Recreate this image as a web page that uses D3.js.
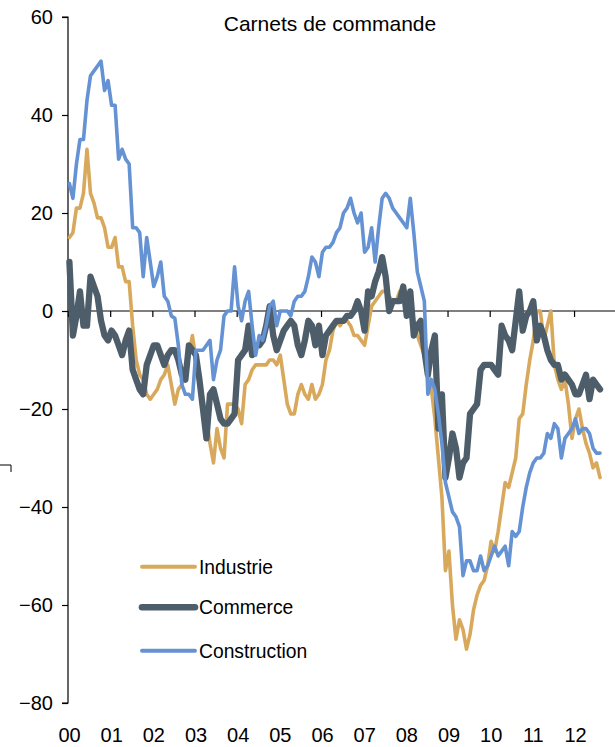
<!DOCTYPE html>
<html>
<head>
<meta charset="utf-8">
<script src="https://cdn.jsdelivr.net/npm/d3@7"></script>
<style>
  html, body { margin: 0; padding: 0; background: #fff; }
  svg { display: block; font-family: "Liberation Sans", Arial, sans-serif; }
</style>
</head>
<body>
<svg id="chart" width="615" height="747"></svg>
<script>
// ---- Data (monthly, Jan 2000 .. Aug 2012) ----
const startYear = 2000;
const yearLabels = ["00","01","02","03","04","05","06","07","08","09","10","11","12"];
const yTicks = [-80, -60, -40, -20, 0, 20, 40, 60];

const industrie = [
  15,16,21,21,24,33,24,22,19,19,17,13,
  13,15,9,9,6,6,-3,-10,-13,-14,-17,-18,
  -17,-16,-14,-13,-11,-15,-19,-16,-15,-13,-9,-5,
  -10,-14,-18,-22,-27,-31,-24,-28,-30,-19,-19,-19,
  -20,-23,-15,-14,-12,-11,-11,-11,-11,-10,-10,-11,
  -9,-14,-19,-21,-21,-17,-15,-17,-18,-15,-18,-17,
  -15,-10,-8,-4,-2,-3,-2,-2,-3,-5,-5,-6,
  -7,-3,1,2,3,4,4,3,2,2,4,2,
  2,1,-2,-5,-7,-9,-12,-16,-22,-30,-38,-53,
  -49,-60,-67,-63,-65,-69,-66,-61,-58,-56,-55,-52,
  -47,-49,-45,-40,-35,-36,-33,-30,-22,-21,-15,-10,
  -6,0,0,-6,-3,0,-11,-14,-16,-14,-19,-26,
  -22,-20,-24,-27,-29,-32,-31,-34
];

const commerce = [
  10,-5,-1,4,-3,-3,7,5,3,-2,-5,-6,
  -4,-5,-7,-9,-6,-4,-12,-14,-16,-17,-11,-9,
  -7,-7,-9,-11,-9,-8,-8,-10,-13,-14,-7,-8,
  -9,-14,-20,-26,-17,-16,-19,-22,-23,-23,-22,-21,
  -10,-9,-8,-3,-9,-7,-7,-6,-3,1,-5,-8,
  -6,-4,-3,-2,-3,-7,-9,-6,-2,-3,-7,-3,
  -9,-5,-4,-3,-2,-2,-2,-1,-1,0,2,0,
  -4,4,3,6,8,11,7,0,2,2,2,5,
  -1,4,-5,-3,-2,-8,-13,-8,-5,-24,-17,-34,
  -30,-25,-28,-34,-31,-30,-21,-20,-19,-12,-11,-11,
  -11,-12,-13,-3,-5,-6,-8,-2,4,-4,-1,0,
  2,-6,-3,-5,-8,-10,-11,-11,-14,-13,-14,-15,
  -17,-17,-15,-13,-18,-14,-15,-16
];

const construction = [
  26,23,30,35,35,43,48,49,50,51,45,47,
  42,42,31,33,31,30,17,17,16,7,15,10,
  5,7,10,3,2,-1,-1.5,-7,-15,-17,-17,-18,
  -8,-8,-8,-7,-6,-14,-10,-8,-1,0,0,9,
  1,-2,2,4,-3,-9,-5,-6,-3,1,2,-3,
  0,0,0,-1,2,3,3,4,7,11,10,7,
  12,13,13,14,16,17,20,21,23,20,18,20,
  12,13,17,10,17,23,24,23,21,20,19,18,
  17,23,16,8,5,2,-17,-14,-16,-21,-27,-35,
  -38,-41,-42,-44,-54,-51,-51,-53,-53,-50,-53,-52,
  -50,-48,-50,-49,-48,-52,-45,-46,-45,-40,-36,-33,
  -31,-30,-30,-29,-25,-26,-23,-24,-30,-26,-25,-24,
  -22,-25,-24,-24,-25,-28,-29,-29
];

const seriesNames = ["Industrie", "Commerce", "Construction"];
const seriesData = [industrie, commerce, construction];
const seriesColors = ["#D8A95C", "#4D5E6A", "#6592D3"];
const seriesWidths = [3.6, 6.3, 3.6];

// ---- Layout ----
const svg = d3.select("#chart");
const x = d3.scaleLinear().domain([2000, 2013]).range([68, 68 + 13 * 42.17]);
const y = d3.scaleLinear().domain([-80, 60]).range([703, 17]);

// Title
svg.append("text")
  .attr("x", 330).attr("y", 31)
  .attr("text-anchor", "middle")
  .attr("font-size", 21)
  .attr("fill", "#000")
  .text("Carnets de commande");

// Y axis
const yAxis = d3.axisLeft(y).tickValues(yTicks).tickSize(6).tickPadding(9)
  .tickFormat(d3.format("d"));
const gy = svg.append("g").attr("transform", "translate(68,0)").call(yAxis);
gy.select(".domain").attr("stroke", "#000").attr("stroke-width", 1.2)
  .attr("d", `M-6,${y(60)}H0V${y(-80)}H-6`);
gy.selectAll(".tick line").attr("stroke", "#000").attr("stroke-width", 1.2);
gy.selectAll(".tick text").attr("font-size", 20).attr("fill", "#000")
  .attr("font-family", "'Liberation Sans', Arial, sans-serif");

// X axis on the zero line
const years = d3.range(2000, 2013);
const xAxis = d3.axisBottom(x).tickValues(years).tickSize(6).tickFormat("");
const gx = svg.append("g").attr("transform", `translate(0,${y(0)})`).call(xAxis);
gx.select(".domain").attr("stroke", "#000").attr("stroke-width", 1.2)
  .attr("d", `M68,0H615`);
gx.selectAll(".tick line").attr("stroke", "#000").attr("stroke-width", 1.2);

// Year labels at the bottom
svg.append("g").selectAll("text").data(years).join("text")
  .attr("x", d => x(d) + 1.5)
  .attr("y", 742)
  .attr("text-anchor", "middle")
  .attr("font-size", 20)
  .attr("fill", "#000")
  .text((d, i) => yearLabels[i]);

// Lines
const line = d3.line()
  .x((d, i) => x(startYear + (i + 0.4) / 12))
  .y(d => y(d))
  .curve(d3.curveLinear);

seriesData.forEach((data, k) => {
  svg.append("path")
    .datum(data)
    .attr("fill", "none")
    .attr("stroke", seriesColors[k])
    .attr("stroke-width", seriesWidths[k])
    .attr("stroke-linejoin", "round")
    .attr("stroke-linecap", "round")
    .attr("d", line);
});

// Legend
const legendY = [566.7, 607.3, 650.7];
const lg = svg.append("g");
seriesNames.forEach((name, k) => {
  lg.append("line")
    .attr("x1", 142).attr("x2", 195)
    .attr("y1", legendY[k]).attr("y2", legendY[k])
    .attr("stroke", seriesColors[k])
    .attr("stroke-width", seriesWidths[k] + 0.3)
    .attr("stroke-linecap", "round");
  lg.append("text")
    .attr("x", 199).attr("y", legendY[k] + 6.8)
    .attr("font-size", 19.3)
    .attr("fill", "#000")
    .text(name);
});

// small stray bracket mark at left edge
svg.append("path")
  .attr("d", "M0,465H11V472")
  .attr("fill", "none")
  .attr("stroke", "#000")
  .attr("stroke-width", 1);
</script>
</body>
</html>
